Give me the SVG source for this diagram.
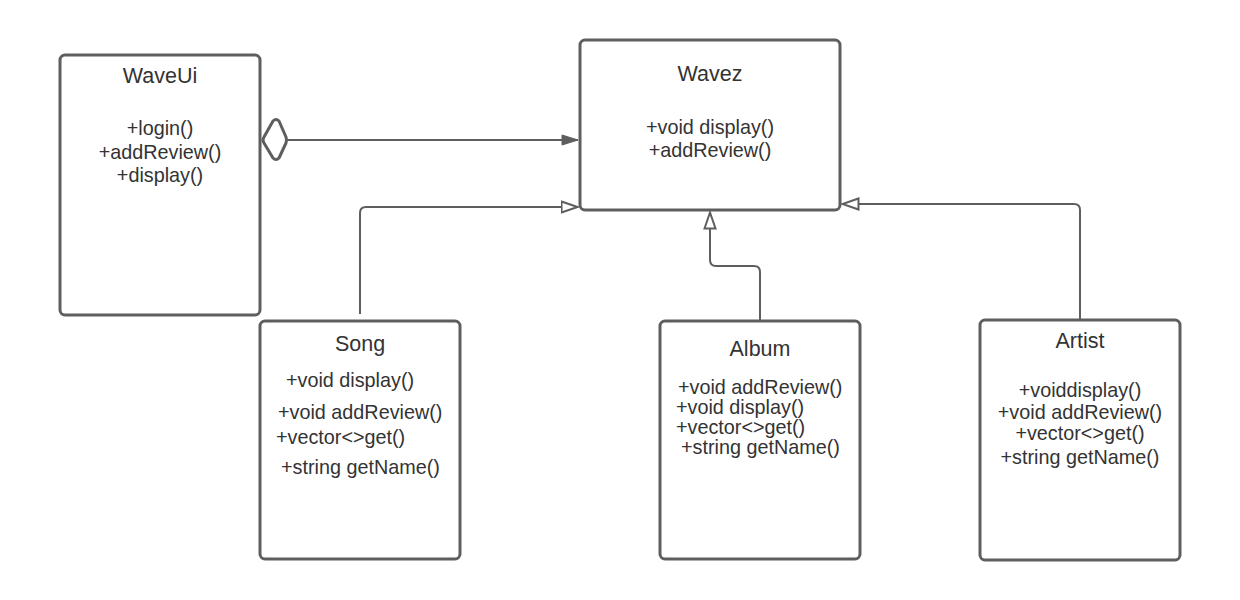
<svg xmlns="http://www.w3.org/2000/svg" width="1240" height="600" viewBox="0 0 1240 600">
<defs>
<style>
.box{fill:#fff;stroke:#5e5e5e;stroke-width:3}
.t{font-family:"Liberation Sans",Arial,sans-serif;font-size:21.5px;fill:#333}
.m{font-family:"Liberation Sans",Arial,sans-serif;font-size:19.8px;fill:#333}
.c{text-anchor:middle}
.ln{fill:none;stroke:#5e5e5e;stroke-width:2;stroke-linejoin:round}
</style>
<marker id="filled" markerWidth="18" markerHeight="12" refX="17" refY="6" orient="auto" markerUnits="userSpaceOnUse">
<path d="M1,1 L17,6 L1,11 Z" fill="#5e5e5e" stroke="#5e5e5e" stroke-width="1"/>
</marker>
<marker id="hollow" markerWidth="19" markerHeight="14" refX="17.5" refY="7" orient="auto" markerUnits="userSpaceOnUse">
<path d="M1,1.5 L17,7 L1,12.5 Z" fill="#fff" stroke="#5e5e5e" stroke-width="2"/>
</marker>
</defs>
<rect width="1240" height="600" fill="#fff"/>
<g id="connectors">
<path class="ln" d="M287,140 L578,140" marker-end="url(#filled)"/>
<path class="ln" d="M360,314 L360,213 Q360,207 366,207 L578,207" marker-end="url(#hollow)"/>
<path class="ln" d="M760,321 L760,272 Q760,266 754,266 L716,266 Q710,266 710,260 L710,212" marker-end="url(#hollow)"/>
<path class="ln" d="M1080,320 L1080,210 Q1080,204 1074,204 L842,204" marker-end="url(#hollow)"/>
</g>
<g id="WaveUi">
<rect class="box" x="60" y="55" width="200" height="260" rx="5"/>
<text class="t c" x="160" y="83">WaveUi</text>
<text class="m c" x="160" y="135">+login()</text>
<text class="m c" x="160" y="159">+addReview()</text>
<text class="m c" x="160" y="182">+display()</text>
<path d="M273,121 Q276,118 279,121 L286,137 Q287,140 286,143 L279,158 Q276,161 273,158 L264,143 Q262,140 264,137 Z" fill="#fff" stroke="#5e5e5e" stroke-width="3" stroke-linejoin="round"/>
</g>
<g id="Wavez">
<rect class="box" x="580" y="40" width="260" height="170" rx="5"/>
<text class="t c" x="710" y="81">Wavez</text>
<text class="m c" x="710" y="134">+void display()</text>
<text class="m c" x="710" y="157">+addReview()</text>
</g>
<g id="Song">
<rect class="box" x="260" y="321" width="200" height="238" rx="5"/>
<text class="t c" x="360" y="351">Song</text>
<text class="m" x="286" y="387">+void display()</text>
<text class="m" x="278" y="419">+void addReview()</text>
<text class="m" x="276" y="444">+vector&lt;&gt;get()</text>
<text class="m" x="281" y="474">+string getName()</text>
</g>
<g id="Album">
<rect class="box" x="660" y="321" width="200" height="238" rx="5"/>
<text class="t c" x="760" y="356">Album</text>
<text class="m" x="678" y="394">+void addReview()</text>
<text class="m" x="676" y="414">+void display()</text>
<text class="m" x="676" y="434">+vector&lt;&gt;get()</text>
<text class="m" x="681" y="454">+string getName()</text>
</g>
<g id="Artist">
<rect class="box" x="980" y="320" width="200" height="240" rx="5"/>
<text class="t c" x="1080" y="348">Artist</text>
<text class="m c" x="1080" y="397">+voiddisplay()</text>
<text class="m c" x="1080" y="419">+void addReview()</text>
<text class="m c" x="1080" y="440">+vector&lt;&gt;get()</text>
<text class="m c" x="1080" y="464">+string getName()</text>
</g>
</svg>
